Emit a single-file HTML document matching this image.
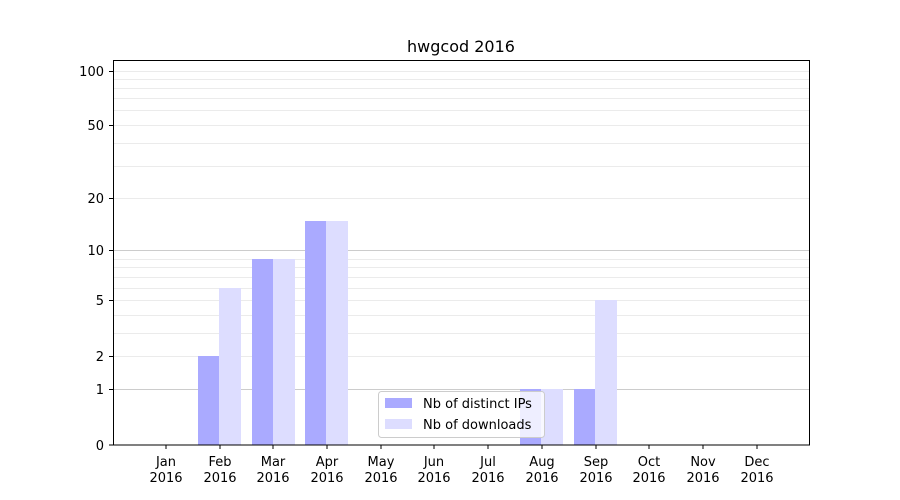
<!DOCTYPE html>
<html><head><meta charset="utf-8"><style>body{margin:0;background:#fff}svg{display:block}text{font-family:"DejaVu Sans","Liberation Sans",sans-serif;fill:#000}</style></head>
<body>
<svg width="900" height="500" viewBox="0 0 900 500">
<rect width="900" height="500" fill="#fff"/>
<g stroke="#ebebeb" stroke-width="1">
<line x1="113" x2="810" y1="356.5" y2="356.5"/><line x1="113" x2="810" y1="333.5" y2="333.5"/><line x1="113" x2="810" y1="315.5" y2="315.5"/><line x1="113" x2="810" y1="300.5" y2="300.5"/><line x1="113" x2="810" y1="288.5" y2="288.5"/><line x1="113" x2="810" y1="277.5" y2="277.5"/><line x1="113" x2="810" y1="267.5" y2="267.5"/><line x1="113" x2="810" y1="259.5" y2="259.5"/>
<line x1="113" x2="810" y1="198.5" y2="198.5"/><line x1="113" x2="810" y1="166.5" y2="166.5"/><line x1="113" x2="810" y1="143.5" y2="143.5"/><line x1="113" x2="810" y1="125.5" y2="125.5"/><line x1="113" x2="810" y1="110.5" y2="110.5"/><line x1="113" x2="810" y1="98.5" y2="98.5"/><line x1="113" x2="810" y1="88.5" y2="88.5"/><line x1="113" x2="810" y1="79.5" y2="79.5"/><line x1="113" x2="810" y1="71.5" y2="71.5"/>
</g>
<g stroke="#cccccc"><line x1="113" x2="810" y1="389.5" y2="389.5"/><line x1="113" x2="810" y1="250.5" y2="250.5"/></g>
<g fill="#aaaaff">
<rect x="198" y="356" width="21" height="89"/><rect x="252" y="259" width="21" height="186"/><rect x="305" y="221" width="21" height="224"/><rect x="520" y="389" width="21" height="56"/><rect x="574" y="389" width="21" height="56"/>
</g>
<g fill="#ddddff">
<rect x="219" y="288" width="22" height="157"/><rect x="273" y="259" width="22" height="186"/><rect x="326" y="221" width="22" height="224"/><rect x="541" y="389" width="22" height="56"/><rect x="595" y="300" width="22" height="145"/>
</g>
<rect x="113.5" y="60.5" width="696" height="384.5" fill="none" stroke="#000"/>
<g stroke="#000">
<line x1="109" x2="113" y1="445" y2="445"/><line x1="109" x2="113" y1="389.5" y2="389.5"/><line x1="109" x2="113" y1="356.5" y2="356.5"/><line x1="109" x2="113" y1="300.5" y2="300.5"/><line x1="109" x2="113" y1="250.5" y2="250.5"/><line x1="109" x2="113" y1="198.5" y2="198.5"/><line x1="109" x2="113" y1="125.5" y2="125.5"/><line x1="109" x2="113" y1="71.5" y2="71.5"/>
</g>
<g font-size="13" text-anchor="end">
<text x="104" y="450">0</text><text x="104" y="394">1</text><text x="104" y="361">2</text><text x="104" y="305">5</text><text x="104" y="255">10</text><text x="104" y="203">20</text><text x="104" y="130">50</text><text x="104" y="76">100</text>
</g>
<g stroke="#000">
<line x1="166" x2="166" y1="445" y2="449"/><line x1="220" x2="220" y1="445" y2="449"/><line x1="273" x2="273" y1="445" y2="449"/><line x1="327" x2="327" y1="445" y2="449"/><line x1="381" x2="381" y1="445" y2="449"/><line x1="434" x2="434" y1="445" y2="449"/><line x1="488" x2="488" y1="445" y2="449"/><line x1="542" x2="542" y1="445" y2="449"/><line x1="596" x2="596" y1="445" y2="449"/><line x1="649" x2="649" y1="445" y2="449"/><line x1="703" x2="703" y1="445" y2="449"/><line x1="757" x2="757" y1="445" y2="449"/>
</g>
<g font-size="13" text-anchor="middle">
<text x="166" y="466">Jan</text><text x="220" y="466">Feb</text><text x="273" y="466">Mar</text><text x="327" y="466">Apr</text><text x="381" y="466">May</text><text x="434" y="466">Jun</text><text x="488" y="466">Jul</text><text x="542" y="466">Aug</text><text x="596" y="466">Sep</text><text x="649" y="466">Oct</text><text x="703" y="466">Nov</text><text x="757" y="466">Dec</text>
<text x="166" y="482">2016</text><text x="220" y="482">2016</text><text x="273" y="482">2016</text><text x="327" y="482">2016</text><text x="381" y="482">2016</text><text x="434" y="482">2016</text><text x="488" y="482">2016</text><text x="542" y="482">2016</text><text x="596" y="482">2016</text><text x="649" y="482">2016</text><text x="703" y="482">2016</text><text x="757" y="482">2016</text>
<text x="461" y="52" font-size="16">hwgcod 2016</text>
</g>
<rect x="378.5" y="391.5" width="166" height="46" rx="3" fill="#fff" fill-opacity="0.8" stroke="#cccccc"/>
<rect x="385" y="398" width="27" height="10" fill="#aaaaff"/>
<rect x="385" y="419" width="27" height="10" fill="#ddddff"/>
<text x="423" y="408" font-size="13">Nb of distinct IPs</text>
<text x="423" y="429" font-size="13">Nb of downloads</text>
</svg>
</body></html>
